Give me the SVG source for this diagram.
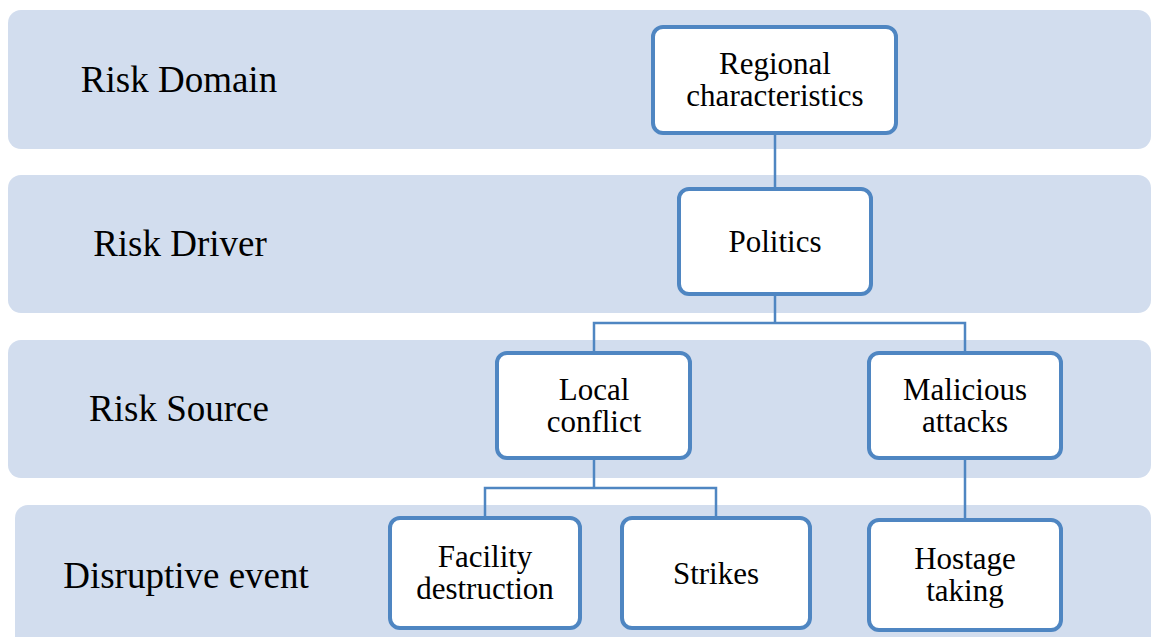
<svg xmlns="http://www.w3.org/2000/svg" width="1152" height="637" viewBox="0 0 1152 637" font-family="Liberation Serif, Times New Roman, serif">
  <style>
    .band { fill: #d2ddee; }
    .band-label { font-size: 37px; fill: #000; text-anchor: middle; }
    .box { fill: #ffffff; stroke: #4f86c2; stroke-width: 4; }
    .box-text { font-size: 31px; fill: #000; text-anchor: middle; }
    .link { fill: none; stroke: #4f86c2; stroke-width: 2.5; }
  </style>

  <rect width="1152" height="637" fill="#ffffff"/>

  <!-- Horizontal level bands -->
  <g id="bands">
    <rect class="band" x="8" y="10" width="1143" height="139" rx="13"/>
    <rect class="band" x="8" y="175" width="1143" height="138" rx="13"/>
    <rect class="band" x="8" y="340" width="1143" height="138" rx="13"/>
    <rect class="band" x="15" y="505" width="1136" height="145" rx="13"/>
    <text class="band-label" x="179" y="92">Risk Domain</text>
    <text class="band-label" x="180" y="256">Risk Driver</text>
    <text class="band-label" x="179" y="421">Risk Source</text>
    <text class="band-label" x="186" y="588">Disruptive event</text>
  </g>

  <!-- Tree connectors -->
  <g id="connectors">
    <path class="link" d="M775 133 V189"/>
    <path class="link" d="M775 294 V323 M594 353 V323 H965 V353"/>
    <path class="link" d="M594 458 V488 M485 518 V488 H716 V518"/>
    <path class="link" d="M965 458 V520"/>
  </g>

  <g id="node-regional">
    <rect class="box" x="653" y="27" width="243" height="106" rx="10"/>
    <text class="box-text" x="775" y="74">Regional</text>
    <text class="box-text" x="775" y="106">characteristics</text>
  </g>

  <g id="node-politics">
    <rect class="box" x="679" y="189" width="192" height="105" rx="10"/>
    <text class="box-text" x="775" y="252">Politics</text>
  </g>

  <g id="node-local-conflict">
    <rect class="box" x="497" y="353" width="193" height="105" rx="10"/>
    <text class="box-text" x="594" y="400">Local</text>
    <text class="box-text" x="594" y="432">conflict</text>
  </g>

  <g id="node-malicious-attacks">
    <rect class="box" x="869" y="353" width="192" height="105" rx="10"/>
    <text class="box-text" x="965" y="400">Malicious</text>
    <text class="box-text" x="965" y="432">attacks</text>
  </g>

  <g id="node-facility-destruction">
    <rect class="box" x="390" y="518" width="190" height="110" rx="10"/>
    <text class="box-text" x="485" y="567">Facility</text>
    <text class="box-text" x="485" y="599">destruction</text>
  </g>

  <g id="node-strikes">
    <rect class="box" x="622" y="518" width="188" height="110" rx="10"/>
    <text class="box-text" x="716" y="584">Strikes</text>
  </g>

  <g id="node-hostage-taking">
    <rect class="box" x="869" y="520" width="192" height="110" rx="10"/>
    <text class="box-text" x="965" y="569">Hostage</text>
    <text class="box-text" x="965" y="601">taking</text>
  </g>
</svg>
